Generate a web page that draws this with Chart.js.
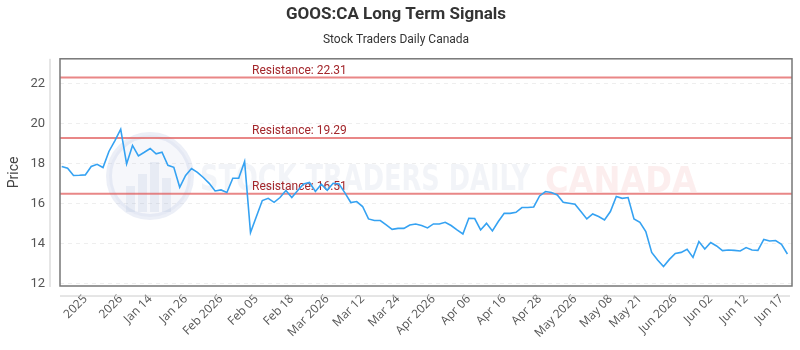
<!DOCTYPE html>
<html lang="en">
  <head>
    <meta charset="UTF-8" />
    <title>GOOS:CA Long Term Signals</title>
    <style>
      html, body { margin: 0; padding: 0; background: #fff; }
      #wrap { width: 800px; height: 350px; }
    </style>
  </head>
  <body>
    <div id="wrap"><canvas id="myChart"></canvas></div>

    <script src="https://cdn.jsdelivr.net/npm/chart.js"></script>
    <script>
      // closing prices, one per trading day
      const prices = [
        17.87, 17.78, 17.42, 17.43, 17.45, 17.87, 17.98, 17.82, 18.62, 19.15,
        19.73, 18.0, 18.92, 18.4, 18.58, 18.77, 18.5, 18.58, 17.93, 17.83,
        16.83, 17.42, 17.77, 17.58, 17.32, 17.03, 16.65, 16.7, 16.57, 17.28,
        17.28, 18.12, 14.57, 15.37, 16.17, 16.28, 16.08, 16.32, 16.67, 16.32,
        16.67, 17.0, 17.07, 16.62, 16.98, 16.68, 17.03, 17.0, 16.55, 16.07,
        16.12, 15.87, 15.25, 15.17, 15.17, 14.95, 14.73, 14.78, 14.78, 14.95,
        15.0, 14.92, 14.8, 15.0, 15.0, 15.08, 14.92, 14.7, 14.5, 15.28,
        15.27, 14.7, 15.03, 14.65, 15.12, 15.53, 15.53, 15.58, 15.82, 15.82,
        15.85, 16.4, 16.62, 16.57, 16.45, 16.08, 16.03, 15.98, 15.62, 15.25,
        15.5, 15.37, 15.2, 15.62, 16.37, 16.28, 16.32, 15.25, 15.08, 14.62,
        13.58, 13.2, 12.87, 13.23, 13.53, 13.58, 13.73, 13.33, 14.12, 13.75,
        14.07, 13.9, 13.67, 13.7, 13.68, 13.65, 13.82, 13.7, 13.68, 14.23,
        14.15, 14.17, 13.98, 13.5,
      ];
      const tickIndex = [4, 10, 15, 21, 27, 33, 39, 45, 51, 57, 63, 69, 75, 81, 87, 93, 98, 104, 110, 116, 122];
      const tickText = [
        "2025", "2026", "Jan 14", "Jan 26", "Feb 2026", "Feb 05", "Feb 18",
        "Mar 2026", "Mar 12", "Mar 24", "Apr 2026", "Apr 06", "Apr 16", "Apr 28",
        "May 2026", "May 08", "May 21", "Jun 2026", "Jun 02", "Jun 12", "Jun 17",
      ];
      const priceTicks = [12, 14, 16, 18, 20, 22];
      const resistance = [22.31, 19.29, 16.51];

      const fitText = (ctx, text, x, y, w) => {
        const m = ctx.measureText(text).width;
        ctx.save();
        ctx.translate(x, y);
        ctx.scale(w / m, 1);
        ctx.fillText(text, 0, 0);
        ctx.restore();
      };

      const decor = {
        id: "decor",
        beforeDatasetsDraw(chart) {
          const { ctx, chartArea: a, scales } = chart;
          ctx.save();

          // watermark logo
          ctx.beginPath();
          ctx.arc(150, 176, 41, 0, Math.PI * 2);
          ctx.fillStyle = "rgba(190,200,225,0.14)";
          ctx.fill();
          ctx.lineWidth = 6;
          ctx.strokeStyle = "rgba(185,198,225,0.28)";
          ctx.stroke();
          ctx.fillStyle = "rgba(170,185,215,0.2)";
          [[126, 186, 9, 26], [138, 174, 9, 38], [150, 162, 9, 50], [162, 178, 9, 34]].forEach((r) =>
            ctx.fillRect(r[0], r[1], r[2], r[3])
          );

          // watermark text
          ctx.font = 'bold 36px "DejaVu Sans Condensed", "DejaVu Sans"';
          ctx.textBaseline = "alphabetic";
          ctx.fillStyle = "rgba(175,186,210,0.16)";
          fitText(ctx, "STOCK TRADERS DAILY", 200, 190, 330);
          ctx.fillStyle = "rgba(235,120,120,0.13)";
          fitText(ctx, "CANADA", 545, 192, 152);

          // resistance levels
          const y = scales.y;
          resistance.forEach((r) => {
            const py = y.getPixelForValue(r);
            ctx.beginPath();
            ctx.moveTo(a.left, py);
            ctx.lineTo(a.right, py);
            ctx.lineWidth = 2;
            ctx.strokeStyle = "rgba(225,95,95,0.75)";
            ctx.stroke();
            ctx.font = "12px Roboto";
            ctx.fillStyle = "#a3262b";
            ctx.textAlign = "left";
            ctx.fillText("Resistance: " + r.toFixed(2), 252, py - 4);
          });
          ctx.restore();
        },
        afterDraw(chart) {
          const { ctx, chartArea: a } = chart;
          ctx.save();
          ctx.strokeStyle = "#777";
          ctx.lineWidth = 1.5;
          ctx.strokeRect(a.left, a.top, a.right - a.left, a.bottom - a.top);
          ctx.strokeStyle = "#ccc";
          ctx.lineWidth = 1;
          ctx.beginPath();
          ctx.moveTo(a.left - 10, a.top);
          ctx.lineTo(a.left - 10, a.bottom + 1);
          ctx.moveTo(a.left, a.bottom + 10);
          ctx.lineTo(a.right - 2, a.bottom + 10);
          ctx.stroke();
          ctx.restore();
        },
      };

      const ctx = document.getElementById("myChart");
      new Chart(ctx, {
        type: "line",
        data: {
          datasets: [
            {
              label: "GOOS:CA",
              data: prices.map((p, i) => ({ x: i, y: p })),
              borderColor: "#35a2f2",
              borderWidth: 1.6,
              pointRadius: 0,
              tension: 0,
              fill: false,
            },
          ],
        },
        options: {
          responsive: true,
          maintainAspectRatio: false,
          animation: false,
          layout: { padding: { left: 0, right: 8, top: 0, bottom: 0 } },
          plugins: {
            legend: { display: false },
            tooltip: { enabled: false },
            title: {
              display: true,
              text: "GOOS:CA Long Term Signals",
              color: "#333",
              font: { family: "Roboto", size: 17, weight: "bold" },
              padding: { top: 5, bottom: 7 },
            },
            subtitle: {
              display: true,
              text: "Stock Traders Daily Canada",
              color: "#333",
              font: { family: "Roboto", size: 12 },
              padding: { top: 0, bottom: 12 },
            },
          },
          scales: {
            x: {
              type: "linear",
              min: -0.29,
              max: 123.78,
              afterBuildTicks: (s) => {
                s.ticks = tickIndex.map((v) => ({ value: v }));
              },
              afterFit: (s) => {
                s.height = 64;
              },
              grid: { display: false, drawTicks: false },
              border: { display: false },
              ticks: {
                autoSkip: false,
                maxRotation: 45,
                minRotation: 45,
                padding: 6,
                color: "#555",
                font: { family: "Open Sans", size: 12 },
                callback: (v, i) => tickText[i],
              },
            },
            y: {
              min: 11.9,
              max: 23.25,
              afterBuildTicks: (s) => {
                s.ticks = priceTicks.map((v) => ({ value: v }));
              },
              afterFit: (s) => {
                s.width = 60;
              },
              grid: { color: "#eeeeee", drawTicks: false },
              border: { display: false, dash: [4, 4] },
              ticks: {
                padding: 15,
                color: "#555",
                font: { family: "Roboto", size: 13 },
              },
              title: {
                display: true,
                text: "Price",
                color: "#444",
                font: { family: "Roboto", size: 14 },
                padding: { top: 6, bottom: 4 },
              },
            },
          },
        },
        plugins: [decor],
      });
    </script>
  </body>
</html>
